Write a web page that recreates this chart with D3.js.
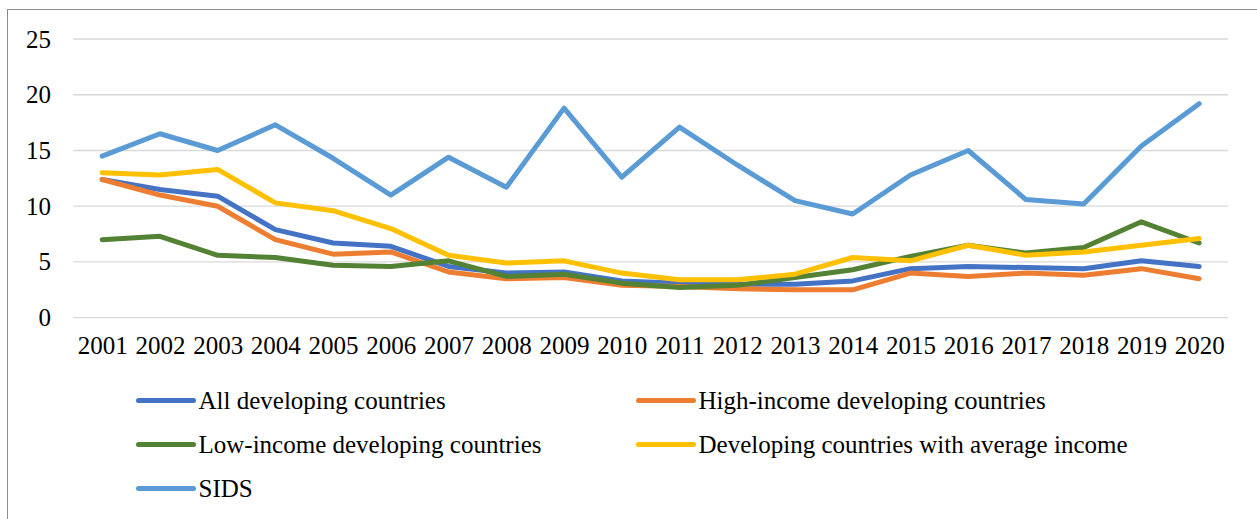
<!DOCTYPE html>
<html>
<head>
<meta charset="utf-8">
<script src="https://cdn.jsdelivr.net/npm/d3@7/dist/d3.min.js"></script>
<style>
  html, body { margin: 0; padding: 0; background: #fff; }
  svg { display: block; }
  text { font-family: "Liberation Serif", "DejaVu Serif", serif; fill: #000; }
</style>
</head>
<body>
<svg id="chart" width="1257" height="519"></svg>
<script>
// Years on the horizontal axis
const years = ["2001","2002","2003","2004","2005","2006","2007","2008","2009","2010",
               "2011","2012","2013","2014","2015","2016","2017","2018","2019","2020"];

// Series values, one per year
const allDeveloping   = [12.4, 11.5, 10.9, 7.9, 6.7, 6.4, 4.6, 4.0, 4.1, 3.3, 3.1, 3.0, 3.0, 3.3, 4.4, 4.6, 4.5, 4.4, 5.1, 4.6];
const highIncome      = [12.4, 11.0, 10.0, 7.0, 5.7, 5.9, 4.1, 3.5, 3.6, 2.9, 2.8, 2.6, 2.5, 2.5, 4.0, 3.7, 4.0, 3.8, 4.4, 3.5];
const lowIncome       = [7.0, 7.3, 5.6, 5.4, 4.7, 4.6, 5.1, 3.7, 3.9, 3.1, 2.7, 2.9, 3.6, 4.3, 5.5, 6.5, 5.8, 6.3, 8.6, 6.7];
const averageIncome   = [13.0, 12.8, 13.3, 10.3, 9.6, 8.0, 5.6, 4.9, 5.1, 4.0, 3.4, 3.4, 3.9, 5.4, 5.1, 6.5, 5.6, 5.9, 6.5, 7.1];
const sids            = [14.5, 16.5, 15.0, 17.3, 14.3, 11.0, 14.4, 11.7, 18.8, 12.6, 17.1, 13.7, 10.5, 9.3, 12.8, 15.0, 10.6, 10.2, 15.4, 19.2];

// Series names
const seriesNames = [
  "All developing countries",
  "High-income developing countries",
  "Low-income developing countries",
  "Developing countries with average income",
  "SIDS"
];

// Value-axis ticks
const yTicks = [0, 5, 10, 15, 20, 25];

const seriesValues = [allDeveloping, highIncome, lowIncome, averageIncome, sids];
const colors = ["#4472C4", "#ED7D31", "#548235", "#FFC000", "#5B9BD5"];

const svg = d3.select("#chart");

// Outer chart frame
svg.append("rect")
  .attr("x", 7.5).attr("y", 9.5)
  .attr("width", 1300).attr("height", 600)
  .attr("fill", "none")
  .attr("stroke", "#8c8c8c")
  .attr("stroke-width", 1);

const plotLeft = 73.3, plotRight = 1228, plotTop = 39, plotBottom = 317.7;

const x = d3.scalePoint().domain(years).range([plotLeft, plotRight]).padding(0.5);
const y = d3.scaleLinear().domain([0, 25]).range([plotBottom, plotTop]);

// Horizontal gridlines
svg.append("g")
  .selectAll("line")
  .data(yTicks)
  .join("line")
  .attr("x1", plotLeft).attr("x2", plotRight)
  .attr("y1", d => y(d)).attr("y2", d => y(d))
  .attr("stroke", "#d9d9d9")
  .attr("stroke-width", 1.3);

// Value axis labels
const yAxis = d3.axisLeft(y).tickValues(yTicks).tickSize(0).tickPadding(0);
const gy = svg.append("g").attr("transform", "translate(51,0)").call(yAxis);
gy.select(".domain").remove();
gy.selectAll("text")
  .attr("font-size", 25)
  .attr("font-family", "Liberation Serif, DejaVu Serif, serif")
  .attr("fill", "#000");

// Year labels
const xAxis = d3.axisBottom(x).tickSize(0).tickPadding(0);
const gx = svg.append("g").attr("transform", "translate(0,336)").call(xAxis);
gx.select(".domain").remove();
gx.selectAll("text")
  .attr("font-size", 25)
  .attr("font-family", "Liberation Serif, DejaVu Serif, serif")
  .attr("fill", "#000");

// Series lines
const line = d3.line()
  .x((d, i) => x(years[i]))
  .y(d => y(d));

svg.append("g")
  .selectAll("path")
  .data(seriesValues)
  .join("path")
  .attr("d", d => line(d))
  .attr("fill", "none")
  .attr("stroke", (d, i) => colors[i])
  .attr("stroke-width", 5)
  .attr("stroke-linejoin", "round")
  .attr("stroke-linecap", "round");

// Legend in two columns
const legendCols = [138.5, 638.5];
const legendRows = [400.5, 444.5, 488.5];
const legend = svg.append("g")
  .selectAll("g")
  .data(seriesNames)
  .join("g")
  .attr("transform", (d, i) => `translate(${legendCols[i % 2]},${legendRows[Math.floor(i / 2)]})`);

legend.append("line")
  .attr("x1", 0).attr("x2", 55)
  .attr("y1", 0).attr("y2", 0)
  .attr("stroke", (d, i) => colors[i])
  .attr("stroke-width", 5)
  .attr("stroke-linecap", "round");

legend.append("text")
  .attr("x", 60)
  .attr("y", 0)
  .attr("dy", "0.33em")
  .attr("font-size", 25)
  .text(d => d);
</script>
</body>
</html>
